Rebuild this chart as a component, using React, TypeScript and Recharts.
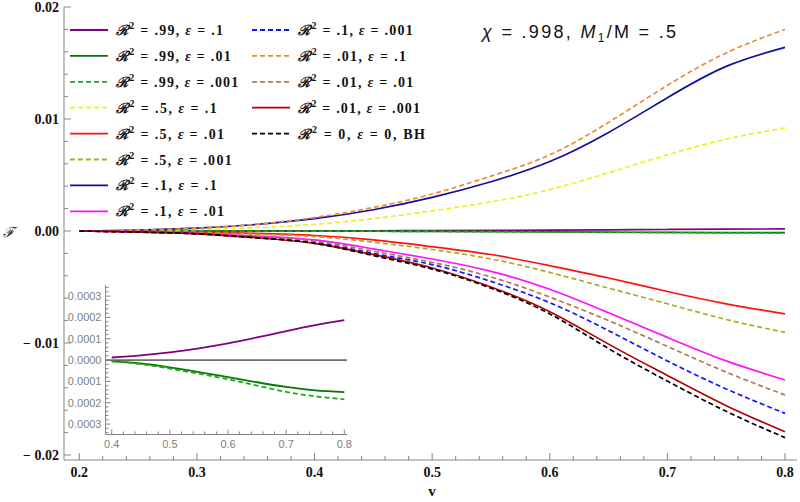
import React from 'react';
import { LineChart, Line, XAxis, YAxis, ReferenceLine } from 'recharts';

// ---------- data ----------
const vValues = [0.2, 0.25, 0.3, 0.35, 0.4, 0.45, 0.5, 0.55, 0.6, 0.65, 0.7, 0.75, 0.8];

const r99e1 = [0, 0.0000005, 0.000002, 0.000005, 0.000012, 0.000022, 0.000036, 0.000055, 0.000078, 0.000106, 0.000136, 0.000164, 0.000187];
const r99e01 = [0, -0.0000005, -0.000001, -0.000003, -0.000005, -0.000016, -0.000034, -0.000056, -0.00008, -0.000104, -0.000126, -0.000142, -0.00015];
const r99e001 = [0, -0.0000005, -0.000001, -0.000003, -0.000006, -0.000019, -0.00004, -0.000064, -0.00009, -0.00012, -0.000149, -0.00017, -0.000184];
const r5e1 = [0, 0.00004, 0.00014, 0.0003, 0.0006, 0.0011, 0.0018, 0.0026, 0.0037, 0.0052, 0.0068, 0.0082, 0.0092];
const r5e01 = [0, -0.00003, -0.0001, -0.00022, -0.0004, -0.0008, -0.0014, -0.0021, -0.0031, -0.0042, -0.0054, -0.0065, -0.0074];
const r5e001 = [0, -0.00004, -0.00012, -0.00028, -0.0005, -0.001, -0.00165, -0.0025, -0.0037, -0.0051, -0.0065, -0.0079, -0.00905];
const r1e1 = [0, 0.00008, 0.00025, 0.00058, 0.0011, 0.0019, 0.003, 0.0044, 0.0062, 0.0088, 0.0119, 0.0147, 0.0164];
const r1e01 = [0, -0.00006, -0.0002, -0.00045, -0.0008, -0.0016, -0.0025, -0.0036, -0.0052, -0.0073, -0.0095, -0.0116, -0.0133];
const r1e001 = [0, -0.00008, -0.00024, -0.00055, -0.001, -0.002, -0.003, -0.0045, -0.0064, -0.0089, -0.0116, -0.0141, -0.01628];
const r01e1 = [0, 0.00008, 0.00026, 0.0006, 0.0012, 0.0021, 0.0033, 0.0049, 0.0068, 0.0097, 0.013, 0.0159, 0.018];
const r01e01 = [0, -0.00007, -0.00022, -0.0005, -0.0009, -0.0018, -0.0028, -0.0041, -0.0059, -0.008, -0.0103, -0.0126, -0.01464];
const r01e001 = [0, -0.0001, -0.00025, -0.0006, -0.0011, -0.0021, -0.0033, -0.005, -0.0072, -0.0101, -0.0129, -0.0156, -0.01792];
const bh = [0, -0.0001, -0.00025, -0.0006, -0.0011, -0.0022, -0.0034, -0.0051, -0.0074, -0.0105, -0.0134, -0.0161, -0.01845];

const xMajorTicks = [0.2, 0.3, 0.4, 0.5, 0.6, 0.7, 0.8];
const yMajorTicks = [-0.02, -0.01, 0, 0.01, 0.02];
const insetXMajorTicks = [0.4, 0.5, 0.6, 0.7, 0.8];
const insetYMajorTicks = [-0.0003, -0.0002, -0.0001, 0, 0.0001, 0.0002, 0.0003];

const title = { chi: '.998', ratio: '.5' };

type Series = { key: string; values: number[]; r2: string; eps: string; extra?: string; color: string; dashed: boolean };

const series: Series[] = [
  { key: 'r99e1', values: r99e1, r2: '.99', eps: '.1', color: '#800080', dashed: false },
  { key: 'r99e01', values: r99e01, r2: '.99', eps: '.01', color: '#007a00', dashed: false },
  { key: 'r99e001', values: r99e001, r2: '.99', eps: '.001', color: '#1fa81f', dashed: true },
  { key: 'r5e1', values: r5e1, r2: '.5', eps: '.1', color: '#f0f020', dashed: true },
  { key: 'r5e01', values: r5e01, r2: '.5', eps: '.01', color: '#ff1010', dashed: false },
  { key: 'r5e001', values: r5e001, r2: '.5', eps: '.001', color: '#b0a826', dashed: true },
  { key: 'r1e1', values: r1e1, r2: '.1', eps: '.1', color: '#10109c', dashed: false },
  { key: 'r1e01', values: r1e01, r2: '.1', eps: '.01', color: '#ff10ff', dashed: false },
  { key: 'r1e001', values: r1e001, r2: '.1', eps: '.001', color: '#1414ff', dashed: true },
  { key: 'r01e1', values: r01e1, r2: '.01', eps: '.1', color: '#f08a36', dashed: true },
  { key: 'r01e01', values: r01e01, r2: '.01', eps: '.01', color: '#b07a54', dashed: true },
  { key: 'r01e001', values: r01e001, r2: '.01', eps: '.001', color: '#b00000', dashed: false },
  { key: 'bh', values: bh, r2: '0', eps: '0', extra: ', BH', color: '#000000', dashed: true },
];

const insetKeys = ['r99e1', 'r99e01', 'r99e001'];

// ---------- derived tables ----------
const mainData = vValues.map((v, i) => {
  const row: Record<string, number> = { v };
  series.forEach((s) => { row[s.key] = s.values[i]; });
  return row;
});
const insetData = mainData.filter((r) => r.v >= 0.4 - 1e-9);

const withMinor = (majors: number[], n: number, extendEnds = 0) => {
  const out: number[] = [];
  const step = (majors[1] - majors[0]) / (n + 1);
  for (let k = -extendEnds; k < 0; k++) out.push(majors[0] + k * step);
  majors.forEach((m, i) => {
    out.push(m);
    if (i < majors.length - 1) for (let k = 1; k <= n; k++) out.push(m + k * step);
  });
  for (let k = 1; k <= extendEnds; k++) out.push(majors[majors.length - 1] + k * step);
  return out.map((t) => Math.round(t * 1e8) / 1e8);
};
const isMajor = (v: number, majors: number[]) => majors.some((m) => Math.abs(m - v) < 1e-9);

const xTicksAll = withMinor(xMajorTicks, 4);
const yTicksAll = withMinor(yMajorTicks, 4);
const insetXTicksAll = withMinor(insetXMajorTicks, 4);
const insetYTicksAll = withMinor(insetYMajorTicks, 4, 2);

// ---------- styles ----------
const FRAME = '#858585';
const LABEL_FONT = 'Liberation Serif, DejaVu Serif, serif';
const SANS = 'Liberation Sans, Arial, sans-serif';
const DASH = '5 3';

const fmtY = (v: number) => (Math.abs(v) < 1e-12 ? '0.00' : v > 0 ? v.toFixed(2) : '\u2212 ' + Math.abs(v).toFixed(2));

// ---------- tick renderers ----------
const makeTick = (side: 'bottom' | 'top' | 'left' | 'right', majors: number[], majorLen: number, minorLen: number, label?: (v: number) => React.ReactNode) =>
  (props: any) => {
    const { x, y, payload } = props;
    const major = isMajor(payload.value, majors);
    const len = major ? majorLen : minorLen;
    let x2 = x, y2 = y;
    if (side === 'bottom') y2 = y - len;
    if (side === 'top') y2 = y + len;
    if (side === 'left') x2 = x + len;
    if (side === 'right') x2 = x - len;
    return (
      <g>
        <line x1={x} y1={y} x2={x2} y2={y2} stroke={FRAME} strokeWidth={1} />
        {major && label ? label(payload.value) : null}
      </g>
    );
  };

const mainBottomTick = (props: any) =>
  makeTick('bottom', xMajorTicks, 7, 4, (v) => (
    <text x={props.x} y={props.y + 16.7} textAnchor="middle" style={{ fontFamily: LABEL_FONT, fontWeight: 'bold', fontSize: 14 }} fill="#111">{v.toFixed(1)}</text>
  ))(props);
const mainLeftTick = (props: any) =>
  makeTick('left', yMajorTicks, 7, 4, (v) => (
    <text x={props.x - 5} y={props.y + 4.5} textAnchor="end" style={{ fontFamily: LABEL_FONT, fontWeight: 'bold', fontSize: 14 }} fill="#111">{fmtY(v)}</text>
  ))(props);
const mainTopTick = makeTick('top', xMajorTicks, 7, 4);
const mainRightTick = makeTick('right', yMajorTicks, 7, 4);

const insetBottomTick = (props: any) =>
  makeTick('bottom', insetXMajorTicks, 5, 3, (v) => (
    <text x={props.x} y={props.y + 13.8} textAnchor="middle" style={{ fontFamily: SANS, fontSize: 11 }} fill="#808080">{v.toFixed(1)}</text>
  ))(props);
const insetLeftTick = (props: any) =>
  makeTick('left', insetYMajorTicks, 5, 3, (v) => (
    <text x={props.x - 4} y={props.y + 4} textAnchor="end" style={{ fontFamily: SANS, fontSize: 11 }} fill="#808080">{Math.abs(v).toFixed(4)}</text>
  ))(props);
const insetTopTick = makeTick('top', insetXMajorTicks, 5, 3);
const insetRightTick = makeTick('right', insetYMajorTicks, 5, 3);

// ---------- legend layout ----------
const legendCols = [
  { lineX1: 70, lineX2: 108, textX: 116, widths: [107, 114.7, 122.3, 100.7, 108, 115.7, 100.7, 108] },
  { lineX1: 252, lineX2: 290, textX: 298.3, widths: [114.4, 107.7, 115, 121.7, 126.7] },
];
const LEGEND_TOP = 30;
const LEGEND_STEP = 25.9;

const Legend13 = () => {
  const items = series.map((s, i) => {
    const col = i < 8 ? 0 : 1;
    const row = i < 8 ? i : i - 8;
    const c = legendCols[col];
    const cy = LEGEND_TOP + row * LEGEND_STEP;
    return (
      <g key={s.key}>
        <line x1={c.lineX1} x2={c.lineX2} y1={cy} y2={cy} stroke={s.color} strokeWidth={1.8} strokeDasharray={s.dashed ? DASH : undefined} />
        <text x={c.textX} y={cy + 5} style={{ fontFamily: LABEL_FONT, fontWeight: 'bold', fontSize: 14 }} fill="#111" textLength={c.widths[row]} lengthAdjust="spacing">
          <tspan style={{ fontFamily: 'DejaVu Serif, serif', fontStyle: 'italic' }}>{'\u211B'}</tspan>
          <tspan fontSize={10} dy={-6}>2</tspan>
          <tspan dy={6}>{` = ${s.r2}, `}</tspan>
          <tspan fontStyle="italic">{'\u03B5'}</tspan>
          <tspan>{` = ${s.eps}${s.extra ?? ''}`}</tspan>
        </text>
      </g>
    );
  });
  return <g>{items}</g>;
};

export default function App() {
  return (
    <div style={{ position: 'absolute', left: 0, top: 0, width: 800, height: 502, background: '#fff' }}>
      <div style={{ position: 'absolute', left: 0, top: 0 }}>
        <LineChart width={800} height={502} data={mainData} margin={{ top: 7, right: 3, bottom: 0, left: 0 }}>
          <XAxis dataKey="v" type="number" domain={[0.187, 0.8102]} allowDataOverflow ticks={xTicksAll} interval={0}
            tickSize={0} tickMargin={0} tickLine={false} axisLine={{ stroke: FRAME }} height={42} tick={mainBottomTick} />
          <XAxis xAxisId="top" orientation="top" dataKey="v" type="number" domain={[0.187, 0.8102]} allowDataOverflow ticks={xTicksAll} interval={0}
            tickSize={0} tickMargin={0} tickLine={false} axisLine={{ stroke: FRAME }} height={0} tick={mainTopTick} />
          <YAxis type="number" domain={[-0.020446, 0.02]} allowDataOverflow ticks={yTicksAll} interval={0}
            tickSize={0} tickMargin={0} tickLine={false} axisLine={{ stroke: FRAME }} width={64} tick={mainLeftTick} />
          <YAxis yAxisId="right" orientation="right" type="number" domain={[-0.020446, 0.02]} allowDataOverflow ticks={yTicksAll} interval={0}
            tickSize={0} tickMargin={0} tickLine={false} axisLine={{ stroke: FRAME }} width={0} tick={mainRightTick} />
          {series.map((s) => (
            <Line key={s.key} dataKey={s.key} type="natural" stroke={s.color} strokeWidth={1.7}
              strokeDasharray={s.dashed ? DASH : undefined} dot={false} activeDot={false} isAnimationActive={false} />
          ))}
        </LineChart>
      </div>

      <div style={{ position: 'absolute', left: 55, top: 280 }}>
        <LineChart width={300} height={175} data={insetData} margin={{ top: 5, right: 8, bottom: 0, left: 0 }}>
          <XAxis dataKey="v" type="number" domain={[0.3893, 0.8046]} allowDataOverflow ticks={insetXTicksAll} interval={0}
            tickSize={0} tickMargin={0} tickLine={false} axisLine={{ stroke: FRAME }} height={20.5} tick={insetBottomTick} />
          <XAxis xAxisId="top" orientation="top" dataKey="v" type="number" domain={[0.3893, 0.8046]} allowDataOverflow ticks={insetXTicksAll} interval={0}
            tickSize={0} tickMargin={0} tickLine={false} axisLine={{ stroke: FRAME }} height={0} tick={insetTopTick} />
          <YAxis type="number" domain={[-0.000349, 0.000352]} allowDataOverflow ticks={insetYTicksAll} interval={0}
            tickSize={0} tickMargin={0} tickLine={false} axisLine={{ stroke: FRAME }} width={50.5} tick={insetLeftTick} />
          <YAxis yAxisId="right" orientation="right" type="number" domain={[-0.000349, 0.000352]} allowDataOverflow ticks={insetYTicksAll} interval={0}
            tickSize={0} tickMargin={0} tickLine={false} axisLine={{ stroke: FRAME }} width={0} tick={insetRightTick} />
          <ReferenceLine y={0} stroke="#000" strokeWidth={1} />
          {series.filter((s) => insetKeys.includes(s.key)).map((s) => (
            <Line key={s.key} dataKey={s.key} type="natural" stroke={s.color} strokeWidth={1.8}
              strokeDasharray={s.dashed ? DASH : undefined} dot={false} activeDot={false} isAnimationActive={false} />
          ))}
        </LineChart>
      </div>

      <svg width={800} height={502} style={{ position: 'absolute', left: 0, top: 0, pointerEvents: 'none' }}>
        <Legend13 />
        <text x={482} y={38} style={{ fontFamily: SANS, fontSize: 18 }} fill="#111" textLength={194} lengthAdjust="spacing">
          <tspan fontStyle="italic">{'\u03C7'}</tspan>
          <tspan>{` = ${title.chi}, `}</tspan>
          <tspan fontStyle="italic">M</tspan>
          <tspan fontSize={12} dy={4}>1</tspan>
          <tspan dy={-4}>{`/M = ${title.ratio}`}</tspan>
        </text>
        <text x={9} y={237} textAnchor="middle" style={{ fontFamily: 'DejaVu Serif, serif', fontStyle: 'italic', fontSize: 14 }} fill="#111">{'\u2131'}</text>
        <text x={432} y={496} textAnchor="middle" style={{ fontFamily: LABEL_FONT, fontWeight: 'bold', fontSize: 15 }} fill="#111">v</text>
      </svg>
    </div>
  );
}
